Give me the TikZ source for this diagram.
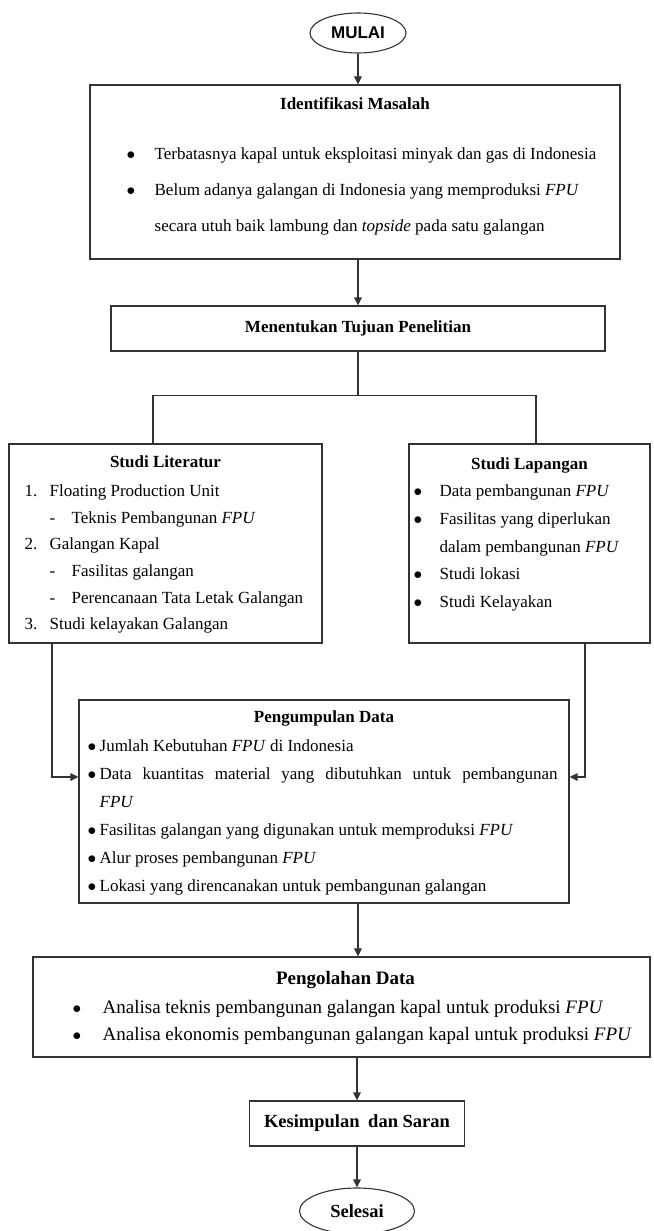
\documentclass[tikz,border=0pt]{standalone}
\usepackage{fontspec}
\setmainfont{Liberation Serif}
\newfontfamily\capfont{Liberation Sans}
\usepackage{tikz}
\usetikzlibrary{positioning, shapes.geometric, arrows.meta}

\newcommand{\dotitem}{$\bullet$}

\begin{document}
\begin{tikzpicture}[x=1pt, y=1pt,
        box/.style={draw=black!80, line width=1.1pt, rectangle, inner sep=0pt},
        oval/.style={draw=black!80, line width=1.1pt, ellipse, inner sep=0pt},
        heading/.style={anchor=base, inner sep=0pt, font=\bfseries\fontsize{17}{20}\selectfont},
        list/.style={anchor=north west, inner sep=0pt, font=\fontsize{17}{27}\selectfont},
        link/.style={draw=black!80, line width=1.1pt},
        flow/.style={link, -{Triangle[length=8pt,width=7.5pt]}}]
    \useasboundingbox (0,0) rectangle (653,-1231);

    % start
    \node (mulai) [oval, minimum width=96pt, minimum height=40pt,
        font=\capfont\bfseries\fontsize{17}{20}\selectfont] at (358,-33) {MULAI};

    % problem
    \node (ident) [box, minimum width=530pt, minimum height=174pt] at (355,-172) {};
    \node (ident-title) [heading] at ([yshift=-25pt]ident.north) {Identifikasi Masalah};
    \node (ident-list) [list, font=\fontsize{17}{36}\selectfont]
        at ([xshift=37pt,yshift=-49.8pt]ident.north west) {%
        \begin{tabular}{@{}p{28pt}@{}l@{}}
            \dotitem & Terbatasnya kapal untuk eksploitasi minyak dan gas di Indonesia \\
            \dotitem & Belum adanya galangan di Indonesia yang memproduksi \textit{FPU} \\
                     & secara utuh baik lambung dan \textit{topside} pada satu galangan
        \end{tabular}};

    \node (tujuan) [box, minimum width=494pt, minimum height=45pt,
        font=\bfseries\fontsize{17}{20}\selectfont] at (358,-328.5) {Menentukan Tujuan Penelitian};

    % the two studies
    \node (lit) [box, minimum width=313pt, minimum height=199pt] at (165.5,-543.5) {};
    \node (lit-title) [heading] at ([yshift=-24pt]lit.north) {Studi Literatur};
    \node (lit-list) [list, font=\fontsize{17}{26.6}\selectfont]
        at ([xshift=16pt,yshift=-34.4pt]lit.north west) {%
        \begin{tabular}{@{}p{25pt}@{}l@{}}
            1. & Floating Production Unit \\
               & \makebox[22pt][l]{-}Teknis Pembangunan \textit{FPU} \\
            2. & Galangan Kapal \\
               & \makebox[22pt][l]{-}Fasilitas galangan \\
               & \makebox[22pt][l]{-}Perencanaan Tata Letak Galangan \\
            3. & Studi kelayakan Galangan
        \end{tabular}};

    \node (lap) [box, minimum width=241pt, minimum height=199pt] at (529.5,-543.5) {};
    \node (lap-title) [heading] at ([yshift=-26pt]lap.north) {Studi Lapangan};
    \node (lap-list) [list, font=\fontsize{17}{27.75}\selectfont]
        at ([xshift=5pt,yshift=-33.6pt]lap.north west) {%
        \begin{tabular}{@{}p{26pt}@{}l@{}}
            \dotitem & Data pembangunan \textit{FPU} \\
            \dotitem & Fasilitas yang diperlukan \\
                     & dalam pembangunan \textit{FPU} \\
            \dotitem & Studi lokasi \\
            \dotitem & Studi Kelayakan
        \end{tabular}};

    % data
    \node (kumpul) [box, minimum width=490pt, minimum height=203pt] at (324,-801.5) {};
    \node (kumpul-title) [heading] at ([yshift=-23pt]kumpul.north) {Pengumpulan Data};
    \node (kumpul-list) [list, font=\fontsize{17}{28}\selectfont]
        at ([xshift=9pt,yshift=-32.4pt]kumpul.north west) {%
        \begin{tabular}{@{}p{12pt}@{}l@{}}
            \dotitem & Jumlah Kebutuhan \textit{FPU} di Indonesia \\
            \dotitem & \makebox[458pt][s]{Data kuantitas material yang dibutuhkan untuk pembangunan} \\
                     & \textit{FPU} \\
            \dotitem & Fasilitas galangan yang digunakan untuk memproduksi \textit{FPU} \\
            \dotitem & Alur proses pembangunan \textit{FPU} \\
            \dotitem & Lokasi yang direncanakan untuk pembangunan galangan
        \end{tabular}};

    \node (olah) [box, minimum width=617pt, minimum height=100pt] at (341.5,-1007) {};
    \node (olah-title) [heading, font=\bfseries\fontsize{19}{22}\selectfont]
        at ([xshift=4pt,yshift=-28.5pt]olah.north) {Pengolahan Data};
    \node (olah-list) [list, font=\fontsize{19}{27}\selectfont]
        at ([xshift=40pt,yshift=-38pt]olah.north west) {%
        \begin{tabular}{@{}p{30pt}@{}l@{}}
            \dotitem & Analisa teknis pembangunan galangan kapal untuk produksi \textit{FPU} \\
            \dotitem & Analisa ekonomis pembangunan galangan kapal untuk produksi \textit{FPU}
        \end{tabular}};

    % end
    \node (simpul) [box, minimum width=215pt, minimum height=45pt,
        font=\bfseries\fontsize{18.5}{22}\selectfont] at (357,-1123.5) {Kesimpulan\hspace{4pt} dan Saran};
    \node (selesai) [oval, minimum width=115pt, minimum height=46pt,
        font=\bfseries\fontsize{18.5}{22}\selectfont] at (357,-1211) {Selesai};

    % connectors
    \coordinate (fork) at ([yshift=-44pt]tujuan.south);
    \draw[flow] (mulai) -- (mulai |- ident.north);
    \draw[flow] (tujuan.north |- ident.south) -- (tujuan.north);
    \draw[link] (tujuan) -- (fork);
    \draw[link] ([xshift=-12.5pt]lit.north) |- (fork) -| ([xshift=6.5pt]lap.north);
    \draw[flow] ([xshift=-113.5pt]lit.south) |- ([yshift=24.5pt]kumpul.west);
    \draw[flow] ([xshift=55.5pt]lap.south) |- ([yshift=24.5pt]kumpul.east);
    \draw[flow] (kumpul.south -| mulai) -- (olah.north -| mulai);
    \draw[flow] (olah.south -| simpul) -- (simpul);
    \draw[flow] (simpul) -- (selesai);
\end{tikzpicture}
\end{document}
